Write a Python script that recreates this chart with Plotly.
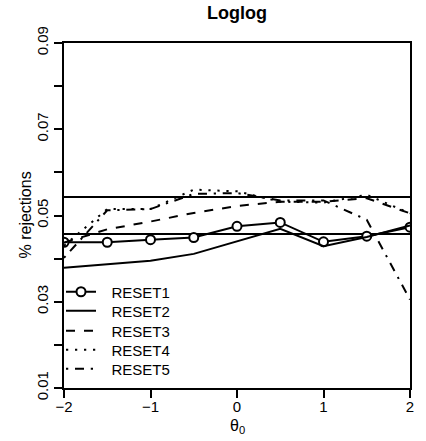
import plotly.graph_objects as go

theta = [-2, -1.5, -1, -0.5, 0, 0.5, 1, 1.5, 2]
reset1 = [0.0438, 0.0438, 0.0444, 0.0449, 0.0475, 0.0484, 0.0439, 0.0452, 0.0473]
reset2 = [0.0379, 0.0387, 0.0395, 0.0411, 0.0440, 0.0469, 0.0429, 0.0450, 0.0477]
reset3 = [0.0437, 0.0468, 0.0486, 0.0506, 0.0522, 0.0532, 0.0532, 0.0540, 0.0505]
reset4 = [0.0430, 0.0515, 0.0515, 0.0560, 0.0556, 0.0532, 0.0530, 0.0548, 0.0505]
reset5 = [0.0402, 0.0512, 0.0515, 0.0550, 0.0552, 0.0535, 0.0535, 0.0490, 0.0305]
band = [0.0457, 0.0543]

y_ticks = [0.01, 0.02, 0.03, 0.04, 0.05, 0.06, 0.07, 0.08, 0.09]
y_ticktext = ["0.01", "", "0.03", "", "0.05", "", "0.07", "", "0.09"]
x_ticks = [-2, -1, 0, 1, 2]
x_ticktext = ["\u22122", "\u22121", "0", "1", "2"]

FONT = "Liberation Sans, Arial, Helvetica, sans-serif"
LW = 2

# plot area in pixels
L, R, T, B = 64, 16, 43, 53
W, H = 426, 441
PW, PH = W - L - R, H - T - B

fig = go.Figure()

series = [
    ("RESET1", reset1, "solid", True),
    ("RESET2", reset2, "solid", False),
    ("RESET3", reset3, "9px,9px", False),
    ("RESET4", reset4, "2.25px,6.75px", False),
    ("RESET5", reset5, "2.25px,6.75px,9px,6.75px", False),
]
legend_rows_px = [292, 311, 331, 350, 369]
PAD = "\u2002\u2009"

legend_layout = {}
for i, (name, vals, dash, markers) in enumerate(series):
    lname = "legend" if i == 0 else f"legend{i + 1}"
    fig.add_trace(go.Scatter(
        x=theta, y=vals, name=PAD + name, legend=lname,
        mode="lines+markers" if markers else "lines",
        line=dict(color="black", width=LW, dash=dash),
        marker=dict(symbol="circle", size=9, color="white",
                    line=dict(color="black", width=2)) if markers else None,
    ))
    legend_layout[lname] = dict(
        x=(61 - L) / PW, y=(H - B - legend_rows_px[i]) / PH,
        xanchor="left", yanchor="middle",
        bgcolor="rgba(0,0,0,0)", font=dict(size=15, family=FONT),
        itemwidth=30, borderwidth=0,
    )

for b in band:
    fig.add_shape(type="line", xref="paper", x0=0, x1=1, yref="y", y0=b, y1=b,
                  line=dict(color="black", width=LW), layer="below")

fig.update_layout(
    width=W, height=H,
    margin=dict(l=L, r=R, t=T, b=B, autoexpand=False),
    plot_bgcolor="white", paper_bgcolor="white",
    font=dict(family=FONT, size=15, color="black"),
    title=dict(text="<b>Loglog</b>", x=(L + W - R) / 2 / W, xanchor="center",
               y=1 - 13 / H, yanchor="middle", font=dict(size=18)),
    showlegend=True,
    **legend_layout,
)

fig.add_annotation(
    text="% rejections", xref="paper", yref="paper",
    x=(25 - L) / PW, y=0.5, xanchor="center", yanchor="middle",
    textangle=-90, showarrow=False, font=dict(size=16, family=FONT),
)
fig.add_annotation(
    text="\u03b8<sub>0</sub>", xref="paper", yref="paper",
    x=0.5, y=(H - B - 426) / PH, xanchor="center", yanchor="middle",
    showarrow=False, font=dict(size=16, family=FONT),
)

fig.update_xaxes(
    range=[-2, 2], tickvals=x_ticks, ticktext=x_ticktext,
    showgrid=False, zeroline=False, automargin=False,
    showline=True, linecolor="black", linewidth=LW, mirror=True,
    ticks="outside", ticklen=8, tickwidth=LW, tickcolor="black",
    ticklabelstandoff=-4,
)
fig.update_yaxes(
    range=[0.01, 0.09], tickvals=y_ticks, ticktext=y_ticktext, tickangle=-90,
    showgrid=False, zeroline=False, automargin=False,
    showline=True, linecolor="black", linewidth=LW, mirror=True,
    ticks="outside", ticklen=8, tickwidth=LW, tickcolor="black",
)

fig.write_html("out.html")
